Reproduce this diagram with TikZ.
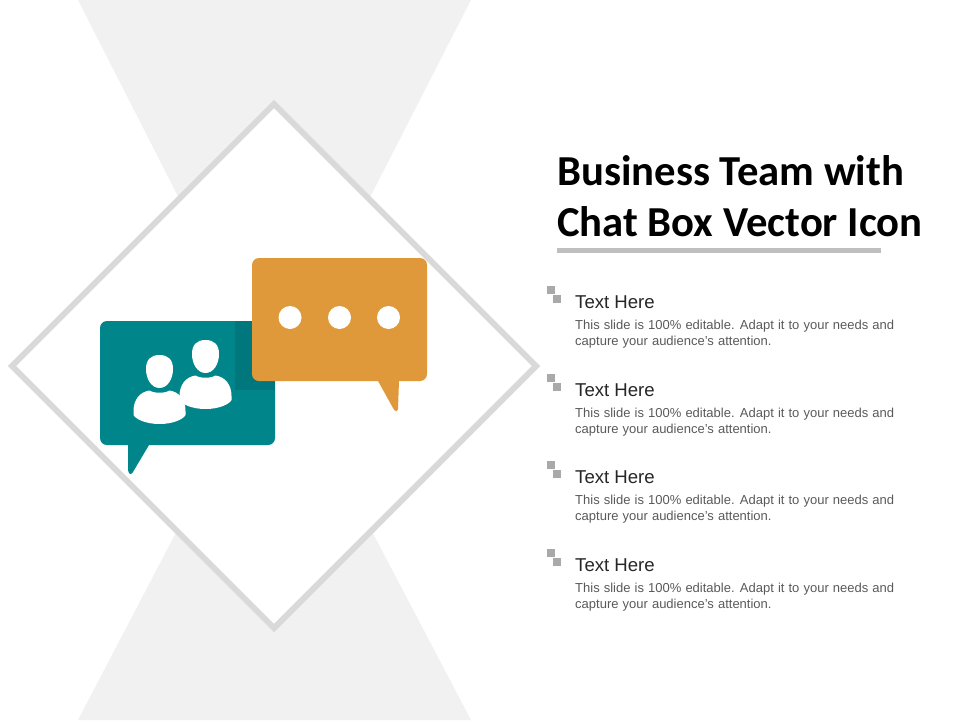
\documentclass[tikz,border=0pt]{standalone}
\usepackage{fontspec}
\setmainfont{Liberation Sans}
\newfontfamily\titlefont{Carlito}
\newcommand{\bodyfontcmd}{\fontsize{13}{13}\selectfont\spaceskip 4.1pt\relax}
\definecolor{tri}{HTML}{F1F1F1}
\definecolor{dia}{HTML}{D9D9D9}
\definecolor{teal1}{HTML}{00858A}
\definecolor{teal2}{HTML}{00777C}
\definecolor{orng}{HTML}{DF993A}
\definecolor{bul}{HTML}{A9A9A9}
\definecolor{rulec}{HTML}{BFBFBF}
\definecolor{bodyc}{HTML}{595959}
\tikzset{
 titletxt/.style={anchor=base west,inner sep=0pt,font=\titlefont\fontsize{42.7}{43}\selectfont\bfseries,text=black},
 headtxt/.style={anchor=base west,inner sep=0pt,font=\fontsize{18.6}{19}\selectfont,text=black!85},
 bodytxt/.style={anchor=base west,inner sep=0pt,font=\bodyfontcmd,text=bodyc},
 bulletsq/.style={fill=bul,draw=none},
 person/.style={fill=white,draw=none},
}
\newcommand{\peep}[2]{%
 \begin{scope}[shift={(#1,#2)}]
 \fill[person] (0,-17) .. controls (9,-17) and (13.5,-12) .. (13.5,-3)
   .. controls (13.5,7) and (8,16) .. (0,16)
   .. controls (-8,16) and (-13.5,7) .. (-13.5,-3)
   .. controls (-13.5,-12) and (-9,-17) .. (0,-17) -- cycle;
 \fill[person] (-10,18.5) .. controls (-5,21.5) and (5,21.5) .. (10,18.5)
   .. controls (20,20) and (26,28) .. (26,39)
   -- (26,43) .. controls (24,47) and (14,52) .. (0,52)
   .. controls (-14,52) and (-24,47) .. (-26,43)
   -- (-26,39) .. controls (-26,28) and (-20,20) .. (-10,18.5) -- cycle;
 \end{scope}}
\newcommand{\rowitem}[2]{%
 \fill[bulletsq] (547,#1) rectangle (555,#1+8);
 \fill[bulletsq] (553,#1+9) rectangle (561,#1+17);
 \node[headtxt] (h#2) at (575,#1+22) {Text Here};
 \node[bodytxt] (a#2) at (575,#1+43) {This slide is 100\% editable. Adapt it to your needs and};
 \node[bodytxt] (b#2) at (575,#1+59) {capture your audience's attention.};}
\begin{document}
\begin{tikzpicture}[x=1pt,y=-1pt]
\useasboundingbox (0,0) rectangle (960,720);
\fill[tri] (78,0) -- (471,0) -- (274,385) -- cycle;
\fill[tri] (78,720) -- (471,720) -- (274,345) -- cycle;
\draw[dia,line width=6pt,fill=white,miter limit=4] (274,104) -- (536,366) -- (274,628) -- (12,366) -- cycle;
% teal bubble
\fill[teal1,rounded corners=7pt] (100,321) rectangle (275,445);
\fill[teal1,line join=round] (128,440) -- (128,470) .. controls (129,475) and (131,475) .. (133,472) -- (149,445) -- (149,440) -- cycle;
\fill[teal2] (235,321) rectangle (275,390);
\peep{205.5}{357}
\peep{159.5}{372}
% orange bubble
\fill[orng,rounded corners=7pt] (252,258) rectangle (427,381);
\fill[orng] (378,376) -- (378,381) -- (393,408) .. controls (395,412) and (397,412) .. (398,409) -- (399,381) -- (399,376) -- cycle;
\fill[white] (290,317.5) circle [radius=11.5];
\fill[white] (339.5,317.5) circle [radius=11.5];
\fill[white] (388.5,317.5) circle [radius=11.5];
% text
\node[titletxt] (t1) at (557,185) {Business Team with};
\node[titletxt] (t2) at (557,236) {Chat Box Vector Icon};
\fill[rulec] (557,248) rectangle (881,253);
\rowitem{286}{1}
\rowitem{374}{2}
\rowitem{461}{3}
\rowitem{549}{4}
\end{tikzpicture}
\end{document}
